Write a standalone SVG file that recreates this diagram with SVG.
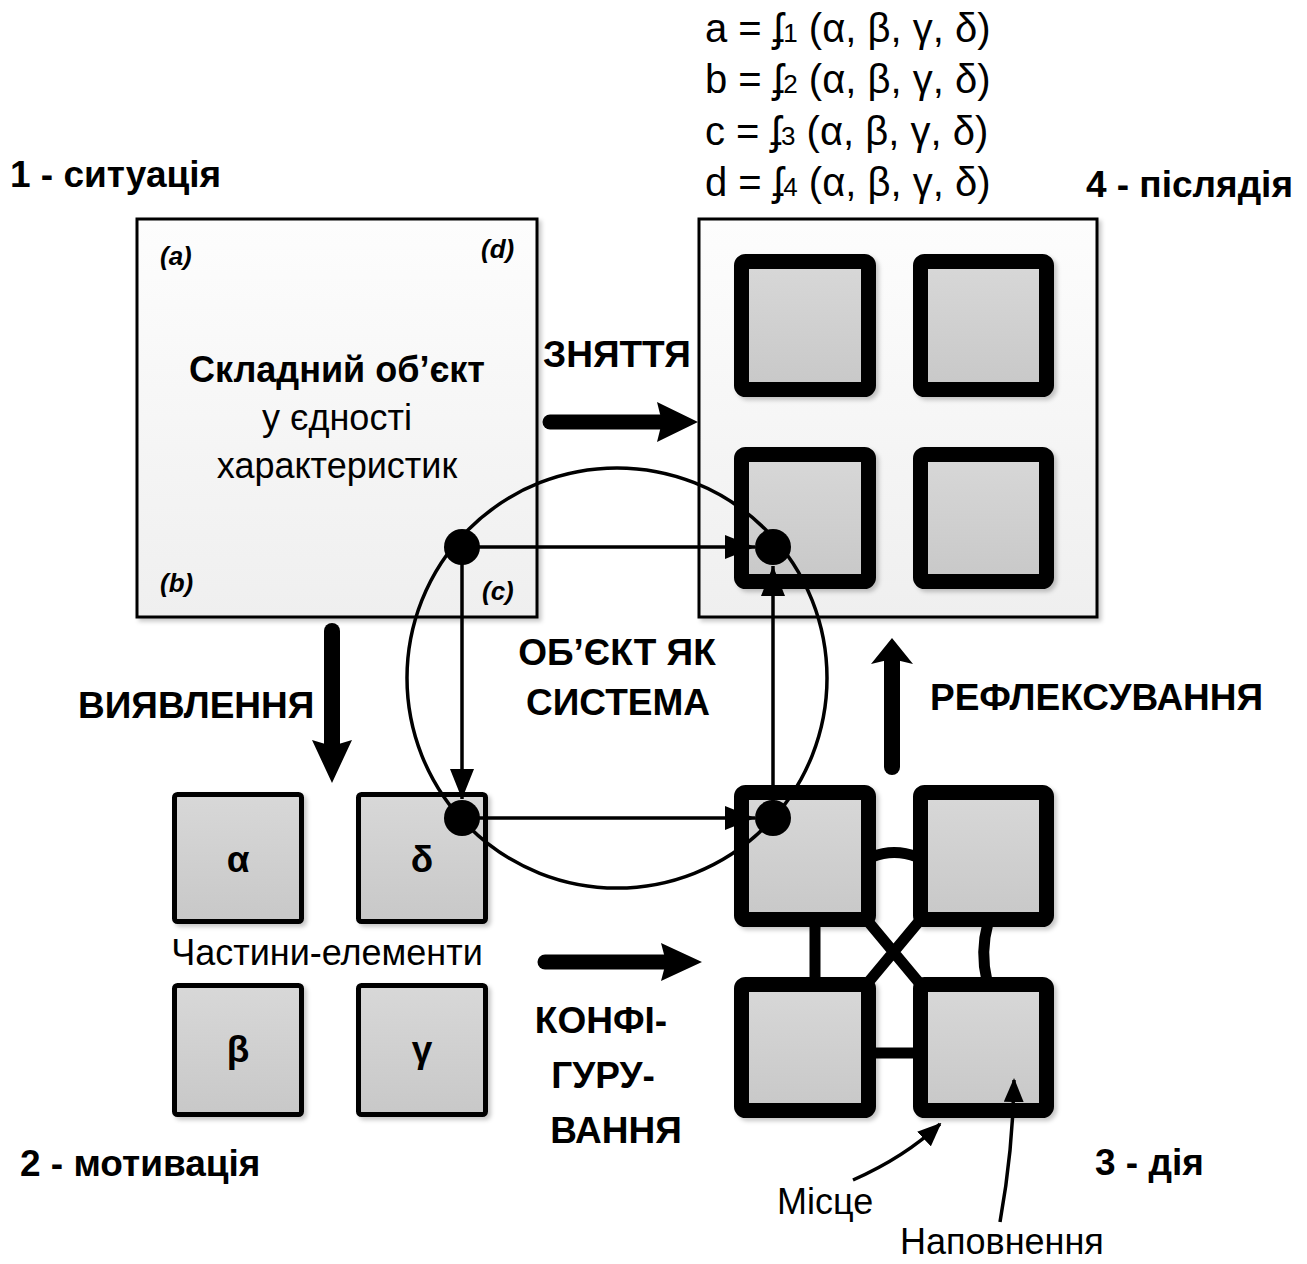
<svg xmlns="http://www.w3.org/2000/svg" width="1307" height="1264" viewBox="0 0 1307 1264">
<defs>
<linearGradient id="gBox" x1="0" y1="0" x2="0" y2="1"><stop offset="0" stop-color="#fdfdfd"/><stop offset="1" stop-color="#efefef"/></linearGradient>
<linearGradient id="gSq" x1="0" y1="0" x2="0" y2="1"><stop offset="0" stop-color="#d8d8d8"/><stop offset="1" stop-color="#c8c8c8"/></linearGradient>
<filter id="sh" x="-10%" y="-10%" width="130%" height="130%"><feDropShadow dx="3" dy="3" stdDeviation="2" flood-color="#000" flood-opacity="0.22"/></filter>
<marker id="ah" viewBox="0 0 30 24" markerWidth="30" markerHeight="24" refX="30" refY="12" orient="auto" markerUnits="userSpaceOnUse"><path d="M0,0 L30,12 L0,24 z" fill="#000"/></marker>
<marker id="ahs" viewBox="0 0 24 20" markerWidth="24" markerHeight="20" refX="22" refY="10" orient="auto" markerUnits="userSpaceOnUse"><path d="M0,0 L24,10 L0,20 z" fill="#000"/></marker>
<style>
.t{font-family:"Liberation Sans",Arial,"DejaVu Sans",sans-serif;fill:#000}
.b{font-weight:bold;font-size:37px}
.r{font-size:36px}
.f{font-size:40px}
.i{font-weight:bold;font-style:italic;font-size:26px}
.big{fill:url(#gBox);stroke:#000;stroke-width:3;filter:url(#sh)}
.thk{fill:url(#gSq);stroke:#000;stroke-width:15;filter:url(#sh)}
.sm{fill:url(#gSq);stroke:#000;stroke-width:5;filter:url(#sh)}
.lnk{fill:none;stroke:#000;stroke-width:11}
.thin{fill:none;stroke:#000;stroke-width:3.5}
.fat{fill:none;stroke:#000;stroke-linecap:round}
</style>
</defs>
<rect width="1307" height="1264" fill="#fff"/>

<g id="formulas">
<text class="t f" x="705" y="42">a = ʄ<tspan font-size="26">1</tspan> (α, β, γ, δ)</text>
<text class="t f" x="705" y="93">b = ʄ<tspan font-size="26">2</tspan> (α, β, γ, δ)</text>
<text class="t f" x="705" y="145">c = ʄ<tspan font-size="26">3</tspan> (α, β, γ, δ)</text>
<text class="t f" x="705" y="196">d = ʄ<tspan font-size="26">4</tspan> (α, β, γ, δ)</text>
</g>

<g id="situation">
<rect class="big" x="137" y="219" width="400" height="398"/>
<text class="t i" x="160" y="265">(a)</text>
<text class="t i" x="481" y="258">(d)</text>
<text class="t i" x="160" y="592">(b)</text>
<text class="t i" x="482" y="600">(c)</text>
<text class="t" x="337" y="382" text-anchor="middle" font-weight="bold" font-size="36">Складний об’єкт</text>
<text class="t r" x="337" y="430" text-anchor="middle">у єдності</text>
<text class="t r" x="337" y="478" text-anchor="middle">характеристик</text>
<text class="t b" x="10" y="187" font-size="39">1 - ситуація</text>
</g>

<g id="aftereffect">
<rect class="big" x="699" y="219" width="398" height="398"/>
<rect class="thk" x="741.5" y="261.5" width="127" height="128" rx="4"/>
<rect class="thk" x="920.5" y="261.5" width="126" height="128" rx="4"/>
<rect class="thk" x="741.5" y="454.5" width="127" height="127" rx="4"/>
<rect class="thk" x="920.5" y="454.5" width="126" height="127" rx="4"/>
<text class="t b" x="1293" y="197" text-anchor="end" font-size="36">4 - післядія</text>
</g>

<g id="motivation">
<rect class="sm" x="174.5" y="794.5" width="127" height="127" rx="3"/>
<rect class="sm" x="358.5" y="794.5" width="127" height="127" rx="3"/>
<rect class="sm" x="174.5" y="985.5" width="127" height="129" rx="3"/>
<rect class="sm" x="358.5" y="985.5" width="127" height="129" rx="3"/>
<text class="t b" x="238" y="872" text-anchor="middle">α</text>
<text class="t b" x="422" y="872" text-anchor="middle">δ</text>
<text class="t b" x="238" y="1062" text-anchor="middle">β</text>
<text class="t b" x="422" y="1062" text-anchor="middle">γ</text>
<text class="t r" x="327" y="965" text-anchor="middle" font-size="38">Частини-елементи</text>
<text class="t b" x="20" y="1176" font-size="40">2 - мотивація</text>
</g>

<g id="action">
<path class="lnk" d="M872,857 Q894,848 917,857"/>
<path class="lnk" d="M815,923 L815,981"/>
<path class="lnk" d="M988,923 Q980,952 987,981"/>
<path class="lnk" d="M872,1053 L917,1053"/>
<path class="lnk" d="M866,919 L921,985 M921,919 L866,985"/>
<rect class="thk" x="741.5" y="792.5" width="127" height="127" rx="4"/>
<rect class="thk" x="920.5" y="792.5" width="126" height="127" rx="4"/>
<rect class="thk" x="741.5" y="984.5" width="127" height="126" rx="4"/>
<rect class="thk" x="920.5" y="984.5" width="126" height="126" rx="4"/>
<text class="t b" x="1095" y="1175" font-size="40">3 - дія</text>
<text class="t r" x="777" y="1214" font-size="38">Місце</text>
<text class="t r" x="900" y="1254" font-size="35">Наповнення</text>
</g>

<g id="system">
<text class="t b" x="617" y="665" text-anchor="middle" font-size="38">ОБ’ЄКТ ЯК</text>
<text class="t b" x="618" y="715" text-anchor="middle" font-size="38">СИСТЕМА</text>
</g>

<g id="connectors">
<circle cx="462" cy="547" r="18" fill="#000"/>
<circle cx="773" cy="547" r="18" fill="#000"/>
<circle cx="462" cy="818" r="18" fill="#000"/>
<circle cx="773" cy="818" r="18" fill="#000"/>
<line class="thin" x1="462" y1="547" x2="755" y2="547" marker-end="url(#ah)"/>
<line class="thin" x1="462" y1="547" x2="462" y2="799" marker-end="url(#ah)"/>
<line class="thin" x1="462" y1="818" x2="755" y2="818" marker-end="url(#ah)"/>
<line class="thin" x1="773" y1="818" x2="773" y2="566" marker-end="url(#ah)"/>
<circle cx="617" cy="678" r="210" fill="none" stroke="#000" stroke-width="3.5"/>

<line class="fat" x1="550" y1="422" x2="662" y2="422" stroke-width="15"/>
<polygon points="698,422 657,402 662,422 657,442"/>
<line class="fat" x1="332" y1="631" x2="332" y2="745" stroke-width="16"/>
<polygon points="332,783 312,740 332,746 352,740"/>
<line class="fat" x1="545" y1="962" x2="665" y2="962" stroke-width="15"/>
<polygon points="702,962 661,943 666,962 661,981"/>
<line class="fat" x1="892" y1="767" x2="892" y2="660" stroke-width="16"/>
<polygon points="892,638 871,664 892,659 913,664"/>

<path class="thin" d="M853,1180 Q905,1157 940,1124" marker-end="url(#ahs)"/>
<path class="thin" d="M1000,1222 Q1013,1150 1014,1080" marker-end="url(#ahs)"/>

<text class="t b" x="543" y="367">ЗНЯТТЯ</text>
<text class="t b" x="78" y="718">ВИЯВЛЕННЯ</text>
<text class="t b" x="930" y="710" font-size="38">РЕФЛЕКСУВАННЯ</text>
<text class="t b" x="601" y="1033" text-anchor="middle" font-size="35">КОНФІ-</text>
<text class="t b" x="603" y="1088" text-anchor="middle" font-size="35">ГУРУ-</text>
<text class="t b" x="616" y="1143" text-anchor="middle" font-size="37">ВАННЯ</text>
</g>
</svg>
